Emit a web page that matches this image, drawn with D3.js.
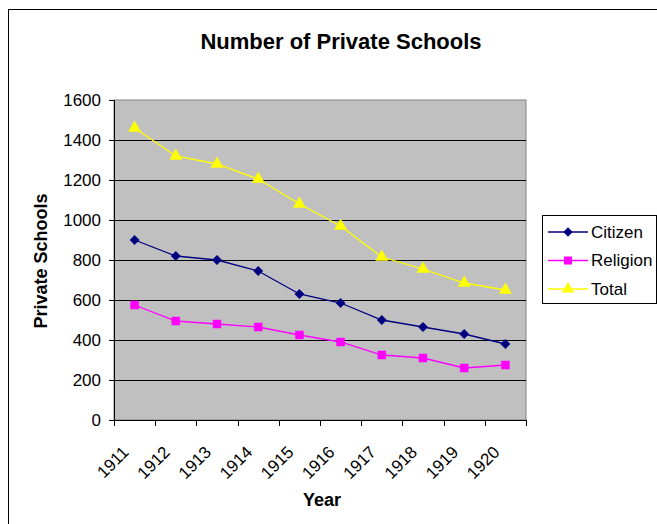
<!DOCTYPE html>
<html><head><meta charset="utf-8">
<script src="https://cdn.jsdelivr.net/npm/d3@7"></script>
<style>
body{margin:0;background:#fff;}
text{font-family:"Liberation Sans",Arial,sans-serif;}
</style></head>
<body>
<svg id="c" width="657" height="524"></svg>
<script>
const years = ["1911","1912","1913","1914","1915","1916","1917","1918","1919","1920"];
const citizen = [900,820,800,745,630,585,500,465,430,380];
const religion = [575,495,480,465,425,390,325,310,260,275];
const total = [1460,1320,1280,1205,1080,970,815,755,685,650];
const yTicks = [0,200,400,600,800,1000,1200,1400,1600];
const seriesNames = ["Citizen","Religion","Total"];

const svg = d3.select("#c");
const W=657,H=524;
svg.append("rect").attr("x",8.5).attr("y",9.5).attr("width",W).attr("height",H).attr("fill","#fff").attr("stroke","#000");

const L=114,R=526,T=100,B=420;
const x = d3.scaleBand().domain(years).range([L,R]);
const y = d3.scaleLinear().domain([0,1600]).range([B,T]);

svg.append("rect").attr("x",L).attr("y",T).attr("width",R-L).attr("height",B-T).attr("fill","#C0C0C0").attr("stroke","#808080");

// gridlines
svg.append("g").selectAll("line").data(yTicks.filter(d=>d>0&&d<1600)).join("line")
  .attr("x1",L).attr("x2",R).attr("y1",d=>Math.round(y(d))+0.5).attr("y2",d=>Math.round(y(d))+0.5)
  .attr("stroke","#000");

// y axis
const ya = svg.append("g").attr("transform",`translate(${L},0)`).call(d3.axisLeft(y).tickValues(yTicks).tickSize(5).tickPadding(8).tickFormat(d3.format("d")));
ya.select(".domain").attr("stroke","#000");
ya.selectAll("line").attr("stroke","#000");
ya.selectAll("text").attr("font-size","17px").attr("fill","#000").style("font-family","Liberation Sans, Arial");

// x axis
const xa = svg.append("g").attr("transform",`translate(0,${B})`);
xa.append("line").attr("x1",L).attr("x2",R).attr("y1",0.5).attr("y2",0.5).attr("stroke","#000");
const bounds = years.map(d=>x(d)).concat([R]);
xa.selectAll("line.t").data(bounds).join("line").attr("class","t")
  .attr("x1",d=>Math.round(d)+0.5).attr("x2",d=>Math.round(d)+0.5).attr("y1",0).attr("y2",6).attr("stroke","#000");
xa.selectAll("text").data(years).join("text")
  .attr("text-anchor","end").attr("font-size","17px").attr("dy","0.35em")
  .attr("transform",d=>`translate(${x(d)+x.bandwidth()/2-9},${29}) rotate(-45)`)
  .text(d=>d);

// lines
const cx = d=>x(d)+x.bandwidth()/2;
const diamond = {draw(ctx,size){const r=Math.sqrt(size/2);ctx.moveTo(0,-r);ctx.lineTo(r,0);ctx.lineTo(0,r);ctx.lineTo(-r,0);ctx.closePath();}};
const data = [
  {name:"Citizen",vals:citizen,color:"#000080",sym:diamond,size:44},
  {name:"Religion",vals:religion,color:"#FF00FF",sym:d3.symbolSquare,size:64},
  {name:"Total",vals:total,color:"#FFFF00",sym:d3.symbolTriangle,size:64}
];
const line = d3.line().x((v,i)=>cx(years[i])).y(v=>y(v));
data.forEach(s=>{
  svg.append("path").attr("d",line(s.vals)).attr("fill","none").attr("stroke",s.color).attr("stroke-width",1.3);
  svg.append("g").selectAll("path").data(s.vals).join("path")
    .attr("d",d3.symbol().type(s.sym).size(s.size))
    .attr("transform",(v,i)=>`translate(${cx(years[i])},${y(v)})`)
    .attr("fill",s.color).attr("stroke",s.color).attr("stroke-width",0.5);
});

// title & labels
svg.append("text").attr("x",341).attr("y",49).attr("text-anchor","middle").attr("font-size","22px").attr("font-weight","bold").text("Number of Private Schools");
svg.append("text").attr("transform","translate(47,261) rotate(-90)").attr("text-anchor","middle").attr("font-size","18px").attr("font-weight","bold").text("Private Schools");
svg.append("text").attr("x",322).attr("y",506).attr("text-anchor","middle").attr("font-size","18px").attr("font-weight","bold").text("Year");

// legend
const lg = svg.append("g");
lg.append("rect").attr("x",542.5).attr("y",215.5).attr("width",114).attr("height",88).attr("fill","#fff").attr("stroke","#000");
data.forEach((s,i)=>{
  const ly = 232 + i*28.5;
  lg.append("line").attr("x1",548).attr("x2",588).attr("y1",ly).attr("y2",ly).attr("stroke",s.color).attr("stroke-width",1.3);
  lg.append("path").attr("d",d3.symbol().type(s.sym).size(s.size)()).attr("transform",`translate(568,${ly})`).attr("fill",s.color);
  lg.append("text").attr("x",591).attr("y",ly).attr("dy","0.35em").attr("font-size","17px").text(seriesNames[i]);
});
</script>
</body></html>
